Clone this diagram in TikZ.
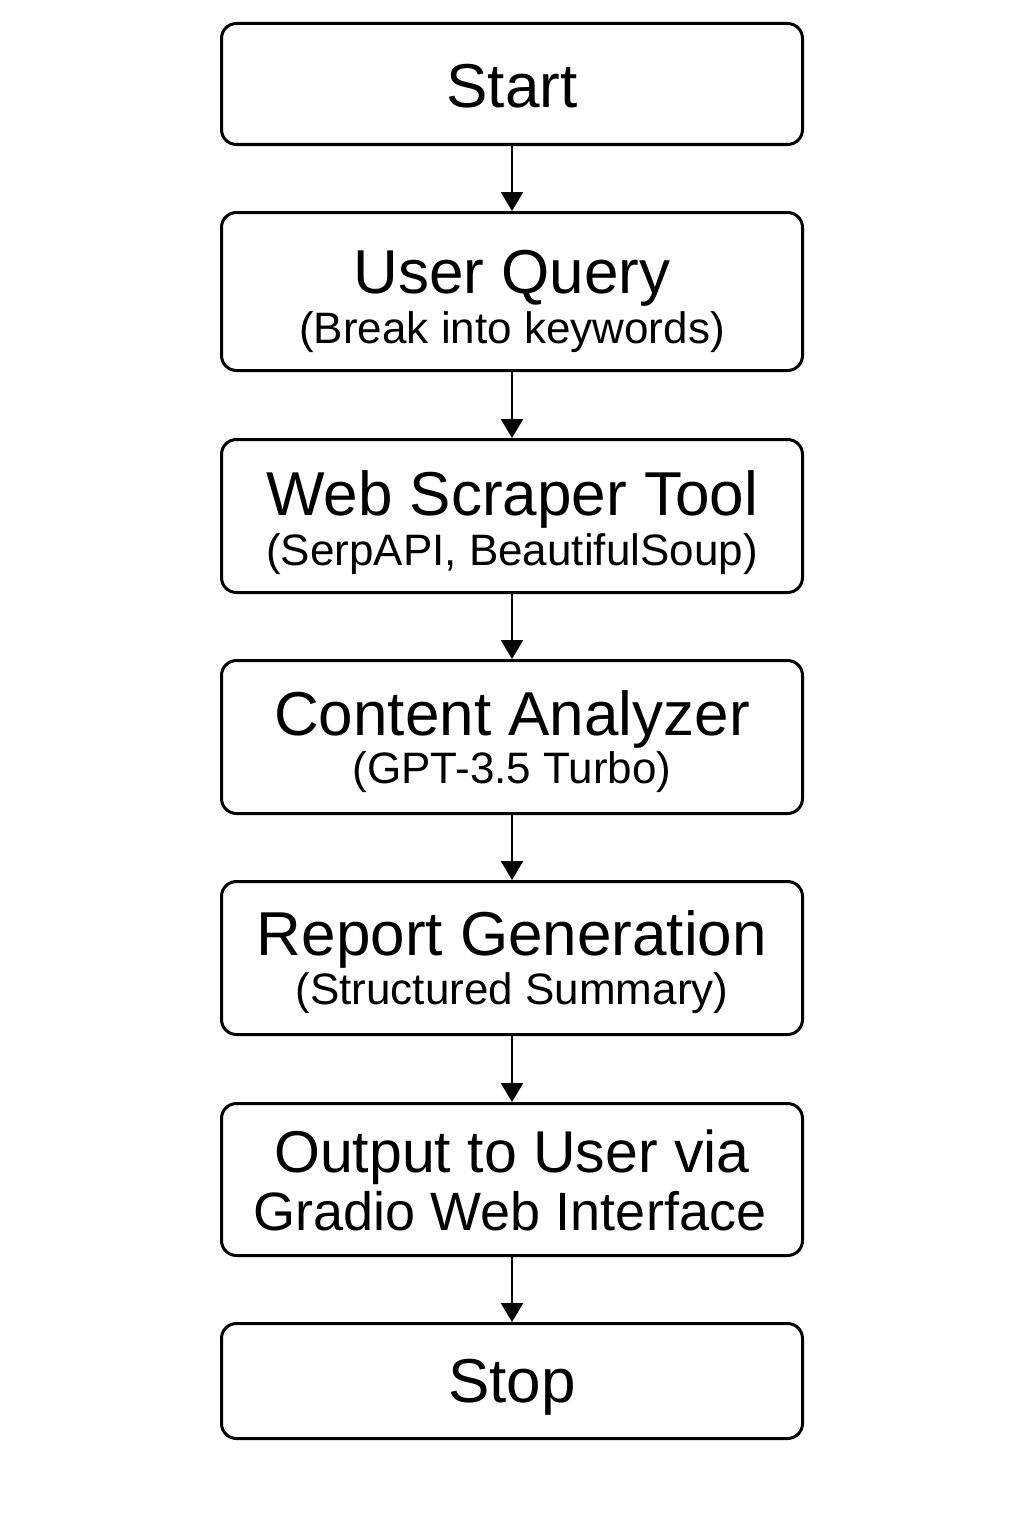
\documentclass[tikz,border=0pt]{standalone}
\usepackage{fontspec}
\setmainfont{Liberation Sans}
\usetikzlibrary{arrows.meta}
\begin{document}
\begin{tikzpicture}[x=1pt,y=-1pt,
  box/.style={draw=black, line width=3pt, rounded corners=15pt, minimum width=581pt, inner sep=0pt, fill=white},
  ttl/.style={anchor=base, inner sep=0pt, font=\fontsize{62}{70}\selectfont},
  ttlb/.style={anchor=base, inner sep=0pt, font=\fontsize{59}{66}\selectfont},
  ttlc/.style={anchor=base, inner sep=0pt, font=\fontsize{54}{62}\selectfont},
  sub/.style={anchor=base, inner sep=0pt, font=\fontsize{44}{50}\selectfont},
  arr/.style={draw=black, line width=2.5pt, -{Triangle[length=19pt,width=22pt]}}]
\useasboundingbox[fill=white] (0,0) rectangle (1024,1536);
% boxes
\node[box, minimum height=121pt] (b1) at (512,84) {};
\node[box, minimum height=158pt] (b2) at (512,291.5) {};
\node[box, minimum height=153pt] (b3) at (512,516) {};
\node[box, minimum height=153pt] (b4) at (512,737) {};
\node[box, minimum height=153pt] (b5) at (512,958) {};
\node[box, minimum height=152pt] (b6) at (512,1179.5) {};
\node[box, minimum height=115pt] (b7) at (512,1381) {};
% texts
\node[ttl] (t1) at (512,108) {Start};
\node[ttl] (t2) at (512,293) {User Query};
\node[sub] (s2) at (512,343) {(Break into keywords)};
\node[ttl] (t3) at (512,515) {Web Scraper Tool};
\node[sub] (s3) at (512,565) {(SerpAPI, BeautifulSoup)};
\node[ttl] (t4) at (512,735) {Content Analyzer};
\node[sub] (s4) at (512,783) {(GPT-3.5 Turbo)};
\node[ttl] (t5) at (512,955) {Report Generation};
\node[sub] (s5) at (512,1004) {(Structured Summary)};
\node[ttlb] (t6) at (512,1172) {Output to User via};
\node[ttlc] (s6) at (510,1230) {Gradio Web Interface};
\node[ttl] (t7) at (512,1402) {Stop};
% connectors
\draw[arr] (b1.south) -- (b2.north);
\draw[arr] (b2.south) -- (b3.north);
\draw[arr] (b3.south) -- (b4.north);
\draw[arr] (b4.south) -- (b5.north);
\draw[arr] (b5.south) -- (b6.north);
\draw[arr] (b6.south) -- (b7.north);
\end{tikzpicture}
\end{document}
